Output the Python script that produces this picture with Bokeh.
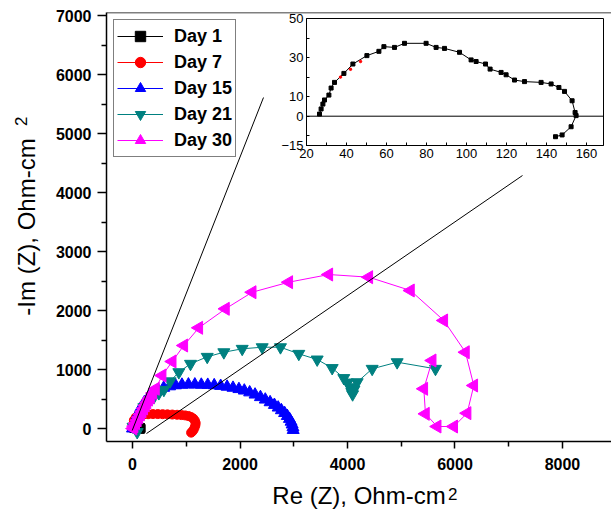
from bokeh.plotting import figure
from bokeh.models import Range1d, Span, Legend, LegendItem, FixedTicker, Div
from bokeh.embed import file_html
from bokeh.resources import INLINE

# ---------------- data ----------------
series_names = ["Day 1", "Day 7", "Day 15", "Day 21", "Day 30"]

day1_x = [26.5, 27.3, 28.2, 29.0, 31.2, 32.3, 34.0, 38.7, 43.2, 50.2, 56.2, 58.7, 64.0, 69.0,
          79.8, 84.8, 89.0, 96.5, 102.3, 104.8, 109.5, 111.8, 117.3, 119.8, 124.0, 129.0,
          137.3, 142.3, 146.2, 149.0, 152.8, 154.3, 154.8, 152.3, 147.8, 144.5]
day1_y = [1.1, 3.7, 6.2, 8.3, 10.8, 14.4, 17.3, 21.9, 26.7, 31.0, 33.2, 35.6, 35.2, 37.3,
          37.3, 35.2, 34.7, 32.7, 28.8, 28.0, 26.7, 24.1, 22.4, 21.2, 18.5, 17.7,
          17.3, 16.5, 14.7, 12.7, 7.9, 1.9, 0.3, -5.4, -9.6, -10.5]

day7_x = [37, 42, 47, 15, 25, 60, 120, 200, 290, 380, 470, 560, 650, 740, 830, 910, 980,
          1040, 1090, 1130, 1160, 1175, 1170, 1155, 1135, 1110, 1090]
day7_y = [20, 24, 28, 70, 140, 190, 220, 235, 242, 245, 245, 243, 240, 237, 233, 228, 222,
          212, 195, 170, 135, 95, 55, 15, -25, -55, -70]

day15_x = [0, 40, 90, 150, 220, 300, 390, 480, 580, 690, 800, 920, 1040, 1160, 1280, 1400,
           1520, 1640, 1760, 1870, 1980, 2080, 2180, 2280, 2380, 2470, 2560, 2640, 2710,
           2770, 2830, 2880, 2920, 2950, 2970, 2985, 2990]
day15_y = [0, 110, 230, 345, 445, 530, 600, 650, 690, 715, 732, 742, 746, 746, 742, 740,
           733, 722, 708, 690, 668, 643, 612, 575, 532, 490, 445, 400, 355,
           310, 262, 212, 163, 115, 68, 20, -25]

day21_x = [10, 87, 150, 211, 300, 397, 490, 583, 700, 862, 1079, 1390, 1699, 2041, 2413,
           2753, 3094, 3436, 3715, 3931, 4000, 4050, 4080, 4095, 4120, 4180, 4459, 4924, 5637]
day21_y = [30, -60, 200, 361, 450, 531, 600, 655, 800, 955, 1097, 1215, 1293, 1351, 1378,
           1378, 1266, 1170, 1025, 855, 780, 700, 620, 580, 660, 785, 1012, 1124, 1012]

day30_x = [10, 30, 60, 90, 120, 150, 180, 210, 240, 270, 300, 335, 380, 428, 552, 739, 955,
           1234, 1730, 2227, 2908, 3653, 4397, 5172, 5792, 6195, 6350, 6226, 5977, 5669,
           5451, 5420, 5576]
day30_y = [0, 40, 90, 140, 190, 240, 290, 340, 390, 440, 490, 531, 600, 673, 898, 1136, 1407,
           1707, 2029, 2310, 2480, 2610, 2565, 2339, 1831, 1293, 729, 260, 34, 34,
           249, 673, 1153]

# zoom guide lines (main-plot data coordinates)
guide1_x = [-6, 2437]
guide1_y = [-34, 5610]
guide2_x = [260, 7256]
guide2_y = [-85, 4288]

main_xticks = [0, 2000, 4000, 6000, 8000]
main_xminor = [1000, 3000, 5000, 7000]
main_yticks = [0, 1000, 2000, 3000, 4000, 5000, 6000, 7000]
main_yminor = [500, 1500, 2500, 3500, 4500, 5500, 6500]

inset_xticks = [20, 40, 60, 80, 100, 120, 140, 160]
inset_xminor = [30, 50, 70, 90, 110, 130, 150]
inset_yticks = [50, 30, 10, 0, -15]
inset_yminor = [40, 20, -10]

FONT = "Liberation Sans"

# ---------------- main figure ----------------
p = figure(width=611, height=514, x_range=Range1d(-484, 8912), y_range=Range1d(-220, 7051),
           output_backend="svg", toolbar_location=None,
           min_border_left=106, min_border_right=0, min_border_top=12, min_border_bottom=73)
p.grid.visible = False
p.outline_line_color = None
p.background_fill_color = "white"

for ax in (p.xaxis[0], p.yaxis[0]):
    ax.axis_line_color = "black"
    ax.axis_line_width = 1.5
    ax.major_tick_line_color = "black"
    ax.minor_tick_line_color = "black"
    ax.major_tick_line_width = 1.5
    ax.minor_tick_line_width = 1.5
    ax.major_tick_in = 0
    ax.minor_tick_in = 0
    ax.major_label_text_font = FONT
    ax.major_label_text_font_style = "bold"
    ax.major_label_text_font_size = "16px"
    ax.major_label_text_color = "black"
    ax.axis_label_text_font = FONT
    ax.axis_label_text_font_style = "normal"
    ax.axis_label_text_font_size = "24px"
    ax.axis_label_text_color = "black"

p.xaxis.ticker = FixedTicker(ticks=main_xticks, minor_ticks=main_xminor)
p.yaxis.ticker = FixedTicker(ticks=main_yticks, minor_ticks=main_yminor)
p.xaxis.major_tick_out = 7
p.xaxis.minor_tick_out = 5
p.yaxis.major_tick_out = 9
p.yaxis.minor_tick_out = 5
p.xaxis.major_label_standoff = 9
p.yaxis.major_label_standoff = 6
p.xaxis.axis_label = "Re (Z), Ohm-cm"
p.yaxis.axis_label = "-Im (Z), Ohm-cm"
p.xaxis.axis_label_standoff = 9
p.yaxis.axis_label_standoff = 13

# top frame line
p.add_layout(Span(location=7051, dimension="width", line_color="black", line_width=1.5))

colors = ["black", "#ff0000", "#0000ff", "#008080", "#ff00ff"]
markers = ["square", "circle", "triangle", "inverted_triangle", "triangle"]
sizes = [8, 9, 12, 12, 13]
angles = [0, 0, 0, 0, 1.5708]
xs = [day1_x, day7_x, day15_x, day21_x, day30_x]
ys = [day1_y, day7_y, day15_y, day21_y, day30_y]

items = []
for name, c, m, s, a, x, y in zip(series_names, colors, markers, sizes, angles, xs, ys):
    rl = p.line(x, y, line_color=c, line_width=1)
    rs = p.scatter(x, y, marker=m, size=s, angle=a, fill_color=c, line_color=c)
    items.append(LegendItem(label=name, renderers=[rl, rs]))

p.line(guide1_x, guide1_y, line_color="black", line_width=1)
p.line(guide2_x, guide2_y, line_color="black", line_width=1)

legend = Legend(items=items, location="top_left", margin=7, padding=3, spacing=0,
                glyph_width=46, glyph_height=26, label_height=26, label_standoff=11,
                label_text_font=FONT, label_text_font_style="bold",
                label_text_font_size="18px", label_text_color="black",
                border_line_color="black", border_line_width=1.2,
                background_fill_color="white", background_fill_alpha=1.0)
p.add_layout(legend)

# superscript 2 of the axis titles (real text, positioned on the page)
sup_html = ('<span style="display:block;font-family:\'Liberation Sans\';font-size:17px;'
            'line-height:20px;color:black;margin:0;padding:0">2</span>')
sup_x = Div(text=sup_html, width=12, height=20,
            styles={"position": "absolute", "left": "443px", "top": "480px"})
sup_y = Div(text=sup_html, width=12, height=20,
            styles={"position": "absolute", "left": "11px", "top": "105px",
                    "transform": "rotate(-90deg)"})

# ---------------- inset ----------------
inset = figure(width=329, height=161, x_range=Range1d(20, 168.5), y_range=Range1d(-15, 50),
               output_backend="svg", toolbar_location=None,
               min_border_left=30, min_border_right=2, min_border_top=8, min_border_bottom=26,
               styles={"position": "absolute", "left": "276px", "top": "10px"})
inset.grid.visible = False
inset.outline_line_color = "black"
inset.outline_line_width = 1
inset.background_fill_color = "white"
inset.border_fill_alpha = 0
for ax in (inset.xaxis[0], inset.yaxis[0]):
    ax.axis_line_color = "black"
    ax.major_tick_line_color = "black"
    ax.minor_tick_line_color = "black"
    ax.major_tick_in = 3
    ax.major_tick_out = 0
    ax.minor_tick_in = 3
    ax.minor_tick_out = 0
    ax.major_label_standoff = 3
    ax.major_label_text_font = FONT
    ax.major_label_text_font_style = "normal"
    ax.major_label_text_font_size = "13px"
    ax.major_label_text_color = "black"
inset.xaxis.ticker = FixedTicker(ticks=inset_xticks, minor_ticks=inset_xminor)
inset.yaxis.ticker = FixedTicker(ticks=inset_yticks, minor_ticks=inset_yminor)

inset.add_layout(Span(location=0, dimension="width", line_color="black", line_width=1))
inset.line(day1_x, day1_y, line_color="black", line_width=1)
inset.scatter(day1_x, day1_y, marker="square", size=4, fill_color="black", line_color="black")
in7_x = [v for v, w in zip(day7_x, day7_y) if 30 < v < 168 and -15 < w < 50]
in7_y = [w for v, w in zip(day7_x, day7_y) if 30 < v < 168 and -15 < w < 50]
inset.scatter(in7_x, in7_y, marker="circle", size=2.5, fill_color="#ff0000", line_color="#ff0000")

open("out.html", "w").write(file_html([p, inset, sup_x, sup_y], INLINE))
